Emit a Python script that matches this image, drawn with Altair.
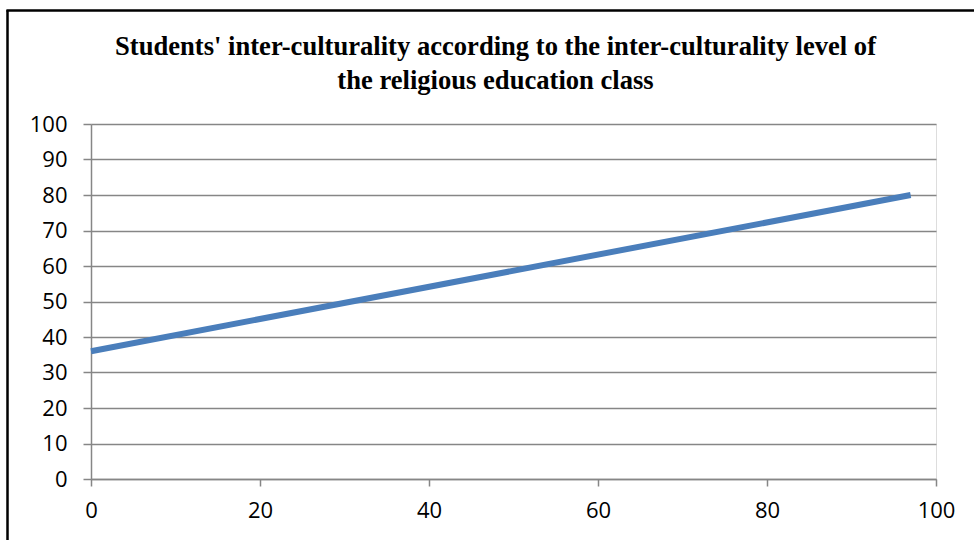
import altair as alt
import pandas as pd

# Regression line endpoints
x_vals = [0, 97]
y_vals = [36, 80]

title_lines = [
    "Students' inter-culturality according to the inter-culturality level of",
    "the religious education class",
]
x_ticks = [0, 20, 40, 60, 80, 100]
y_ticks = [0, 10, 20, 30, 40, 50, 60, 70, 80, 90, 100]

df = pd.DataFrame({"x": x_vals, "y": y_vals})

GRID = "#868686"
LABEL_FONT = "Open Sans"

line = alt.Chart(df).mark_line(color="#4A7EBB", strokeWidth=6, strokeCap="butt").encode(
    x=alt.X(
        "x:Q",
        scale=alt.Scale(domain=[0, 100], nice=False),
        axis=alt.Axis(
            values=x_ticks, title=None, grid=False, domainColor=GRID, domainWidth=1.5,
            tickColor=GRID, tickWidth=1.5, tickSize=7, labelFont=LABEL_FONT,
            labelFontSize=22, labelColor="#000000", labelPadding=14, labelFlush=False,
        ),
    ),
    y=alt.Y(
        "y:Q",
        scale=alt.Scale(domain=[0, 100], nice=False),
        axis=alt.Axis(
            values=y_ticks, title=None, grid=True, gridColor=GRID, gridWidth=1.5,
            domainColor=GRID, domainWidth=1.5, tickColor=GRID, tickWidth=1.5,
            tickSize=8, labelFont=LABEL_FONT, labelFontSize=22, labelColor="#000000",
            labelPadding=16,
        ),
    ),
)

border_left = alt.Chart(df).mark_rule(color="#000000", strokeWidth=2).encode(
    x=alt.value(-83.5), y=alt.value(-113.5), y2=alt.value(430)
)
border_top = alt.Chart(df).mark_rule(color="#000000", strokeWidth=2).encode(
    x=alt.value(-84.5), x2=alt.value(900), y=alt.value(-113.5)
)

title_layers = [
    alt.Chart(df.head(1)).mark_text(
        font="Liberation Serif", fontSize=26.6, fontWeight="bold", color="#000000",
        align="center", baseline="alphabetic",
    ).encode(x=alt.value(404.5), y=alt.value(yy), text=alt.value(t))
    for t, yy in zip(title_lines, [-69, -35])
]

chart = (
    alt.layer(line, border_left, border_top, *title_layers)
    .properties(
        width=845,
        height=355,
        autosize=alt.AutoSizeParams(type="none"),
        padding={"left": 91, "top": 124, "right": 38, "bottom": 61},
    )
    .configure_view(stroke=None)
    .configure(background="#ffffff")
)

chart.save("out.html", embed_options={"renderer": "svg", "actions": False})
